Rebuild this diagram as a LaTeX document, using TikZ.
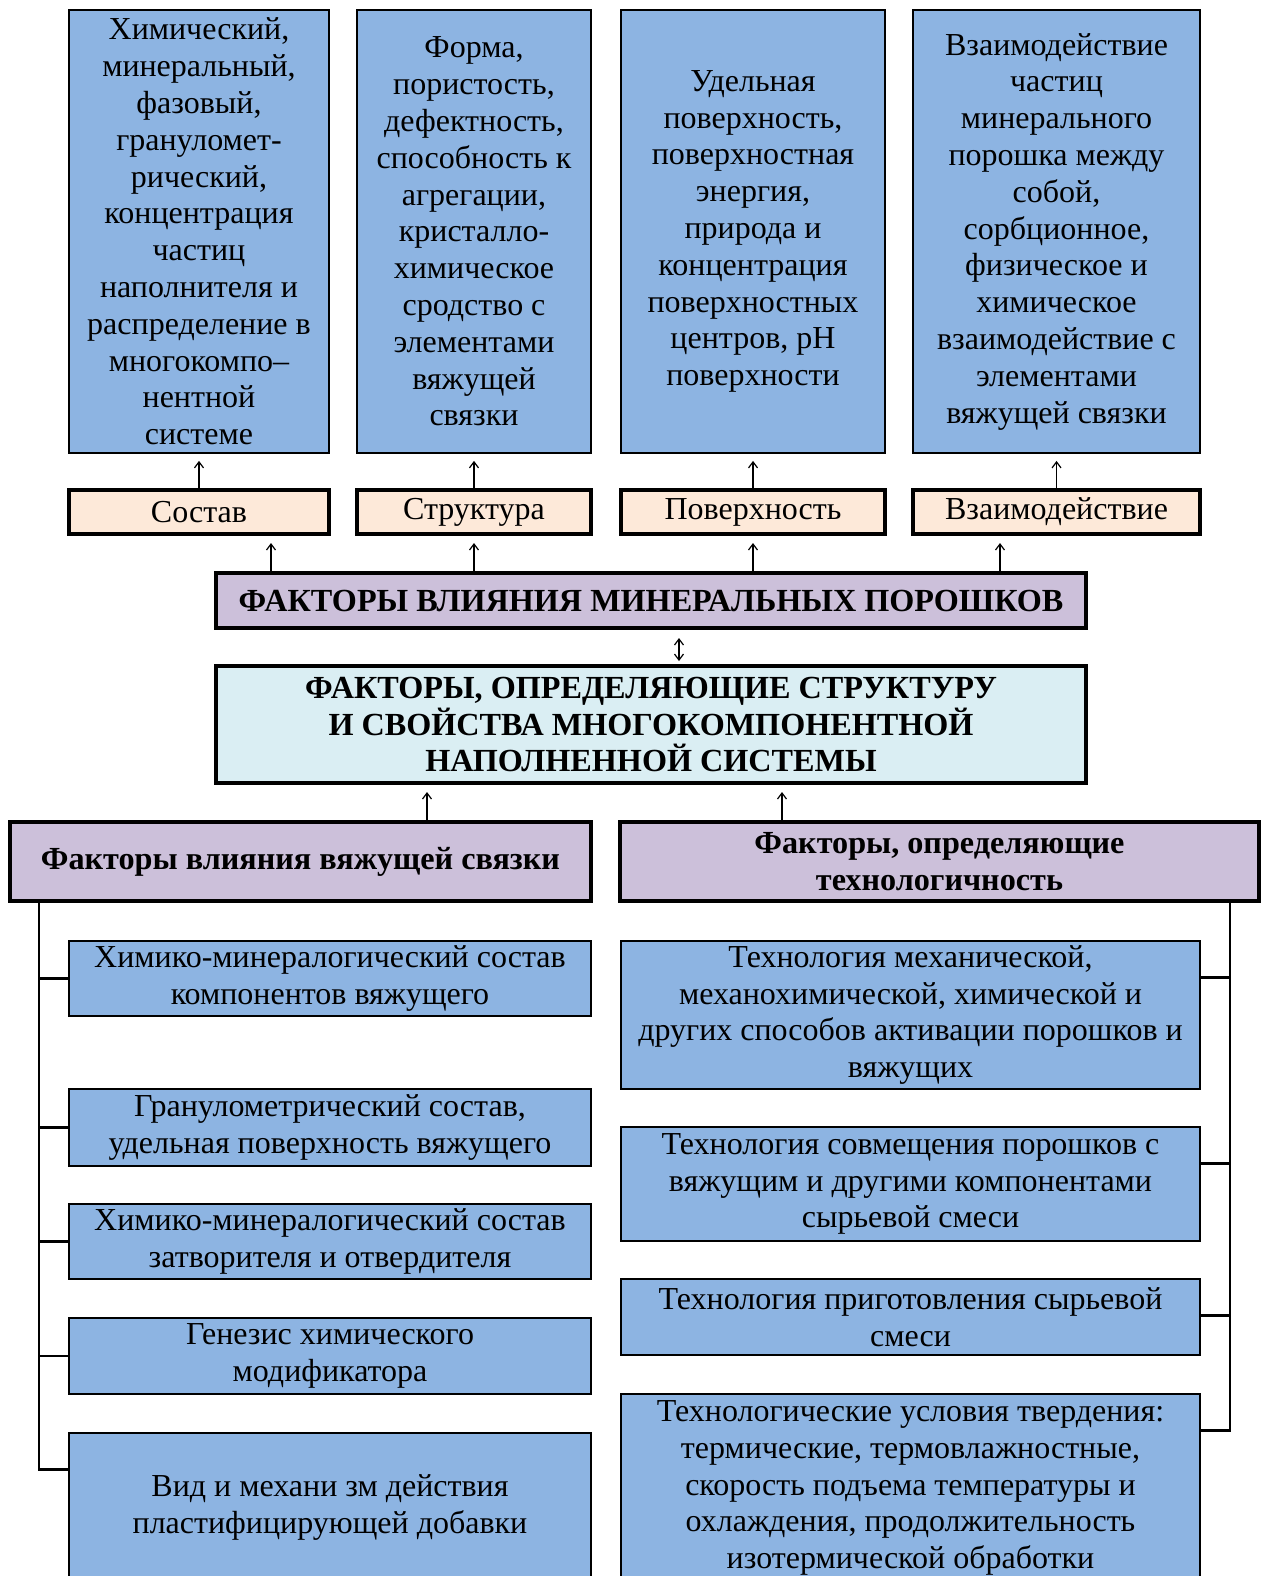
\documentclass[tikz,border=0pt]{standalone}
\usepackage{fontspec}
\setmainfont{Liberation Serif}
\usetikzlibrary{arrows.meta,calc}
\definecolor{boxblue}{HTML}{8DB4E2}
\definecolor{peach}{HTML}{FDE9D9}
\definecolor{lav}{HTML}{CCC0DA}
\definecolor{paleblue}{HTML}{DAEEF3}
\begin{document}
\begin{tikzpicture}[x=0.5pt,y=-0.5pt,
  txt/.style={draw=black, inner sep=0pt, align=center, font=\fontsize{16}{18.4}\selectfont},
  sz/.style 2 args={minimum width=#1pt, minimum height=#2pt},
  bluebox/.style={txt, fill=boxblue, line width=0.9pt},
  labelbox/.style={txt, fill=peach, line width=2pt},
  mainbox/.style={txt, line width=2pt, font=\fontsize{16.1}{18.1}\selectfont\bfseries},
  arr/.style={line width=0.6pt, -{Straight Barb[length=3pt,width=4.5pt]}, shorten >=3.5pt},
  darr/.style={line width=0.6pt, {Straight Barb[length=3pt,width=4.5pt]}-{Straight Barb[length=3pt,width=4.5pt]}},
  tree/.style={line width=1.2pt}
]
\useasboundingbox (0,0) rectangle (1264,1576);
\clip (0,0) rectangle (1264,1576);

% top boxes
\node[bluebox, sz={130}{221.5}] (t1) at (199,231.5) {Химический,\\минеральный,\\фазовый,\\грануломет-\\рический,\\концентрация\\частиц\\наполнителя и\\распределение в\\многокомпо–\\нентной\\системе};
\node[bluebox, sz={117}{221.5}] (t2) at (474,231.5) {Форма,\\пористость,\\дефектность,\\способность к\\агрегации,\\кристалло-\\химическое\\сродство с\\элементами\\вяжущей\\связки};
\node[bluebox, sz={132}{221.5}] (t3) at (753,231.5) {Удельная\\поверхность,\\поверхностная\\энергия,\\природа и\\концентрация\\поверхностных\\центров, pH\\поверхности};
\node[bluebox, sz={143.5}{221.5}] (t4) at (1056.5,231.5) {Взаимодействие\\частиц\\минерального\\порошка между\\собой,\\сорбционное,\\физическое и\\химическое\\взаимодействие с\\элементами\\вяжущей связки};

% label boxes
\node[labelbox, sz={130}{22}] (l1) at (199,512) {Состав};
\node[labelbox, sz={117}{22}] (l2) at (474,512) {Структура};
\node[labelbox, sz={132}{22}] (l3) at (753,512) {Поверхность};
\node[labelbox, sz={143.5}{22}] (l4) at (1056.5,512) {Взаимодействие};

% main boxes
\node[mainbox, fill=lav, sz={435}{27.5}] (mA) at (651,600.5) {ФАКТОРЫ ВЛИЯНИЯ МИНЕРАЛЬНЫХ ПОРОШКОВ};
\node[mainbox, fill=paleblue, sz={435}{58.5}] (mB) at (651,724.5) {ФАКТОРЫ, ОПРЕДЕЛЯЮЩИЕ СТРУКТУРУ\\И СВОЙСТВА МНОГОКОМПОНЕНТНОЙ\\НАПОЛНЕННОЙ СИСТЕМЫ};

% headers
\node[mainbox, fill=lav, sz={290.5}{39.5}] (hL) at (300.5,861.5) {Факторы влияния вяжущей связки};
\node[mainbox, fill=lav, sz={319.5}{39.5}] (hR) at (939.5,861.5) {Факторы, определяющие\\технологичность};

% left boxes
\node[bluebox, sz={261}{37.5}] (L1) at (330,978.5) {Химико-минералогический состав\\компонентов вяжущего};
\node[bluebox, sz={261}{38.5}] (L2) at (330,1127.5) {Гранулометрический состав,\\удельная поверхность вяжущего};
\node[bluebox, sz={261}{37.5}] (L3) at (330,1241.5) {Химико-минералогический состав\\затворителя и отвердителя};
\node[bluebox, sz={261}{38}] (L4) at (330,1356) {Генезис химического\\модификатора};
\node[bluebox, sz={261}{74.5}] (L5) at (330,1507.5) {Вид и механи зм действия\\пластифицирующей добавки};

% right boxes
\node[bluebox, sz={289.5}{74}] (R1) at (910.5,1015) {Технология механической,\\механохимической, химической и\\других способов активации порошков и\\вяжущих};
\node[bluebox, sz={289.5}{57}] (R2) at (910.5,1184) {Технология совмещения порошков с\\вяжущим и другими компонентами\\сырьевой смеси};
\node[bluebox, sz={289.5}{38}] (R3) at (910.5,1317) {Технология приготовления сырьевой\\смеси};
\node[bluebox, sz={289.5}{94}] (R4) at (910.5,1488) {Технологические условия твердения:\\термические, термовлажностные,\\скорость подъема температуры и\\охлаждения, продолжительность\\изотермической обработки};

% arrows label -> top
\draw[arr] (l1.north) -- (t1.south);
\draw[arr] (l2.north) -- (t2.south);
\draw[arr] (l3.north) -- (t3.south);
\draw[arr] (l4.north) -- (t4.south);

% arrows main -> labels
\coordinate (a1) at ($(l1.south)+(72,0)$);
\coordinate (a2) at (l2.south);
\coordinate (a3) at (l3.south);
\coordinate (a4) at ($(l4.south)+(-56.5,0)$);
\draw[arr] (a1 |- mA.north) -- (a1);
\draw[arr] (a2 |- mA.north) -- (a2);
\draw[arr] (a3 |- mA.north) -- (a3);
\draw[arr] (a4 |- mA.north) -- (a4);

% double arrow
\coordinate (d1) at ($(mA.south)+(28,0)$);
\draw[darr, shorten <=4pt, shorten >=1.5pt] (d1) -- (d1 |- mB.north);

% arrows headers -> mB
\coordinate (b1) at ($(hL.north)+(126.5,0)$);
\coordinate (b2) at ($(hR.north)+(-157.5,0)$);
\draw[arr] (b1) -- (b1 |- mB.south);
\draw[arr] (b2) -- (b2 |- mB.south);

% left tree
\coordinate (lt) at ($(hL.south west)+(31,0)$);
\coordinate (s5) at ($(L5.north west)+(0,37.5)$);
\draw[tree] (lt) |- (s5);
\foreach \n in {L1,L2,L3,L4}{
  \draw[tree] (lt |- \n.west) -- (\n.west);
}

% right tree
\coordinate (rt) at ($(hR.south east)+(-31,0)$);
\coordinate (r4) at ($(R4.north east)+(0,37.5)$);
\draw[tree] (rt) |- (r4);
\foreach \n in {R1,R2,R3}{
  \coordinate (q\n) at ($(\n.north east)+(0,37.5)$);
  \draw[tree] (rt |- q\n) -- (q\n);
}
\end{tikzpicture}
\end{document}
